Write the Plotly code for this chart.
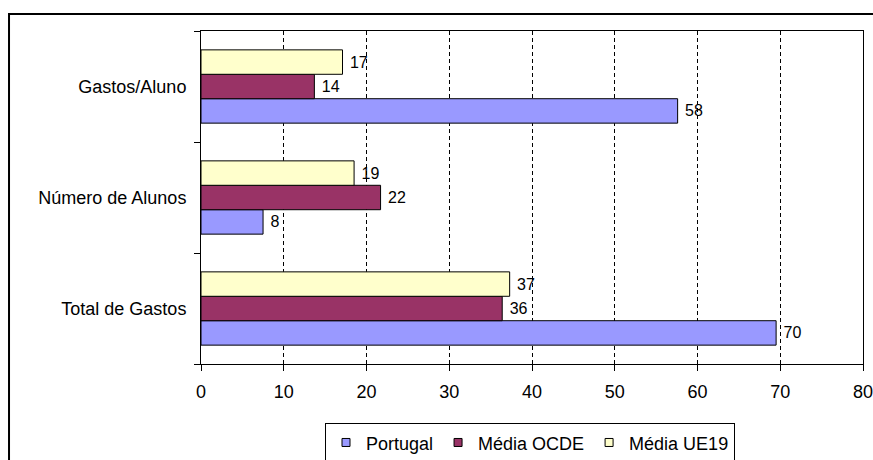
import plotly.graph_objects as go

categories = ["Total de Gastos", "Número de Alunos", "Gastos/Aluno"]
series_names = ["Portugal", "Média OCDE", "Média UE19"]
portugal = [69.5, 7.5, 57.6]
media_ocde = [36.4, 21.7, 13.7]
media_ue19 = [37.3, 18.5, 17.1]
portugal_labels = ["70", "8", "58"]
ocde_labels = ["36", "22", "14"]
ue19_labels = ["37", "19", "17"]
x_ticks = [0, 10, 20, 30, 40, 50, 60, 70, 80]

colors = ["#9999FF", "#993366", "#FFFFCC"]
FONT = "Liberation Sans, Arial, sans-serif"

fig = go.Figure()
for name, vals, labels, col in zip(series_names,
                                   [portugal, media_ocde, media_ue19],
                                   [portugal_labels, ocde_labels, ue19_labels],
                                   colors):
    fig.add_trace(go.Bar(
        y=categories, x=vals, orientation="h", name=name,
        marker=dict(color=col, line=dict(color="black", width=1)),
        text=[" " + t for t in labels], textposition="outside",
        constraintext="none", cliponaxis=False,
        textfont=dict(family=FONT, size=16, color="black"),
        showlegend=False, hoverinfo="skip",
    ))
    fig.add_trace(go.Scatter(
        x=[None], y=[None], mode="markers", name=name,
        marker=dict(symbol="square", size=8, color=col,
                    line=dict(color="black", width=1)),
        showlegend=True,
    ))

fig.update_layout(
    width=873, height=460,
    margin=dict(l=201, r=10, t=31, b=96, autoexpand=False),
    paper_bgcolor="white", plot_bgcolor="white",
    barmode="group", bargap=0.34, bargroupgap=0,
    font=dict(family=FONT, size=18, color="black"),
    showlegend=True,
    legend=dict(orientation="h", x=0.497, xanchor="center", y=-0.178, yanchor="top",
                bordercolor="black", borderwidth=1, font=dict(size=18),
                bgcolor="white", itemclick=False),
    xaxis=dict(range=[0, 80], tickvals=x_ticks, ticktext=[str(v) for v in x_ticks],
               showgrid=True, gridcolor="black", gridwidth=1, griddash="4px,3px",
               showline=True, linecolor="black", linewidth=1, mirror=True,
               ticks="outside", ticklen=6, tickcolor="black",
               ticklabelstandoff=5, zeroline=False, automargin=False,
               ticklabeloverflow="allow",
               tickfont=dict(size=18)),
    yaxis=dict(categoryorder="array", categoryarray=categories,
               showline=True, linecolor="black", linewidth=1, mirror=True,
               ticks="outside", ticklen=6, tickcolor="black", tickson="boundaries",
               ticklabelstandoff=10, showgrid=False, automargin=False,
               tickfont=dict(size=18)),
    shapes=[dict(type="rect", xref="paper", yref="paper",
                 x0=-0.29, x1=1.2, y0=-0.6, y1=1.051,
                 line=dict(color="black", width=2), layer="below")],
)

fig.write_html(
    "out.html",
    config={"displayModeBar": False},
    post_script="document.body.style.margin='0';document.body.style.overflow='hidden';",
)
